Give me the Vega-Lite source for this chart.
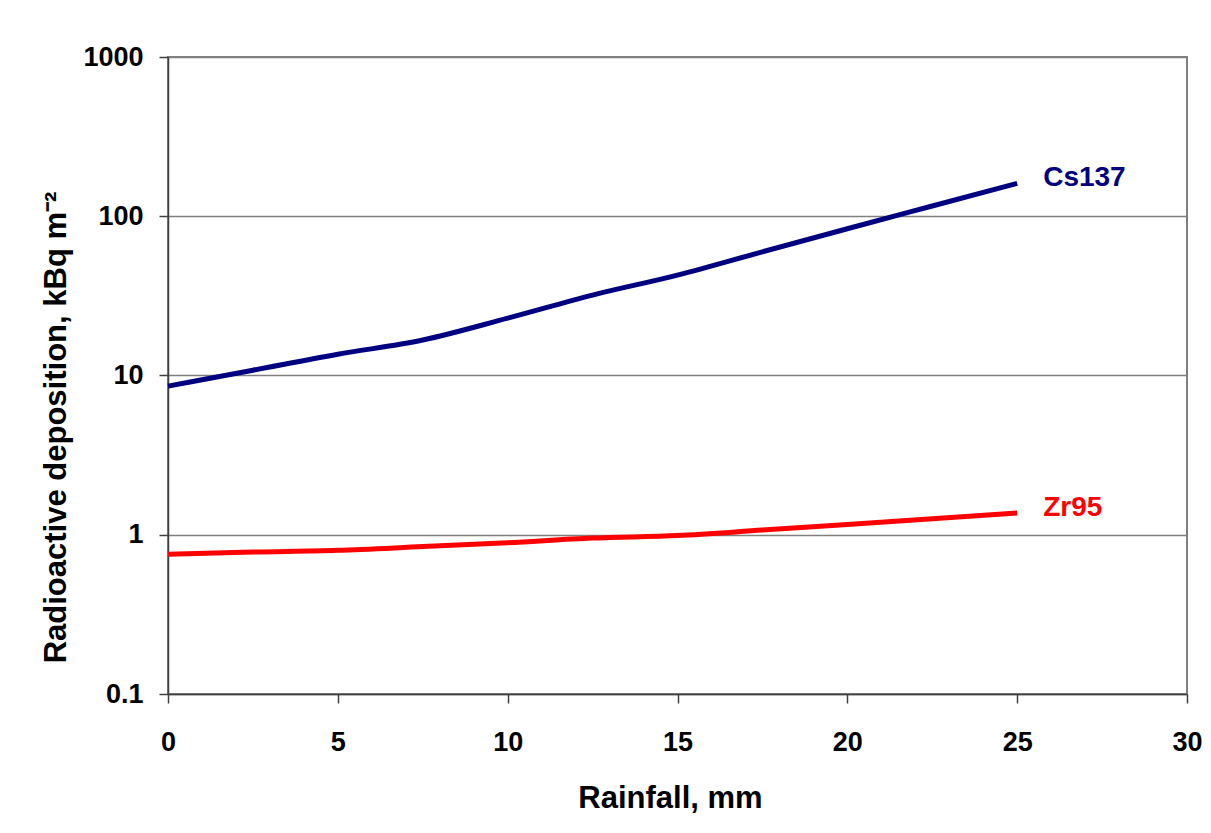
{
  "$schema": "https://vega.github.io/schema/vega-lite/v6.json",
  "width": 1019,
  "height": 637,
  "autosize": {"type": "none"},
  "padding": {"left": 168, "top": 57, "right": 24, "bottom": 139},
  "background": "white",
  "config": {
    "view": {"stroke": "#808080", "strokeWidth": 2},
    "font": "Liberation Sans"
  },
  "data": {
    "values": [
      {"rain": 0, "series": "Cs137", "value": 8.58},
      {"rain": 2.5, "series": "Cs137", "value": 10.8},
      {"rain": 5, "series": "Cs137", "value": 13.6},
      {"rain": 7.5, "series": "Cs137", "value": 16.7},
      {"rain": 10, "series": "Cs137", "value": 22.9},
      {"rain": 12.5, "series": "Cs137", "value": 32.0},
      {"rain": 15, "series": "Cs137", "value": 42.7},
      {"rain": 17.5, "series": "Cs137", "value": 59.8},
      {"rain": 20, "series": "Cs137", "value": 83.5},
      {"rain": 22.5, "series": "Cs137", "value": 116},
      {"rain": 25, "series": "Cs137", "value": 161},
      {"rain": 0, "series": "Zr95", "value": 0.753},
      {"rain": 2.5, "series": "Zr95", "value": 0.778},
      {"rain": 5, "series": "Zr95", "value": 0.798},
      {"rain": 7.5, "series": "Zr95", "value": 0.843},
      {"rain": 10, "series": "Zr95", "value": 0.891},
      {"rain": 12.5, "series": "Zr95", "value": 0.953},
      {"rain": 15, "series": "Zr95", "value": 0.989},
      {"rain": 17.5, "series": "Zr95", "value": 1.07},
      {"rain": 20, "series": "Zr95", "value": 1.16},
      {"rain": 22.5, "series": "Zr95", "value": 1.26},
      {"rain": 25, "series": "Zr95", "value": 1.37}
    ]
  },
  "encoding": {
    "x": {
      "field": "rain",
      "type": "quantitative",
      "scale": {"domain": [0, 30], "nice": false, "zero": false},
      "axis": {
        "title": "Rainfall, mm",
        "values": [0, 5, 10, 15, 20, 25, 30],
        "grid": false,
        "domainColor": "#404040",
        "domainWidth": 1.5,
        "tickColor": "#404040",
        "tickWidth": 1.5,
        "tickSize": 9,
        "labelPadding": 26,
        "labelFont": "Liberation Sans",
        "labelFontSize": 27,
        "labelFontWeight": "bold",
        "labelColor": "black",
        "labelFlush": false,
        "titleFont": "Liberation Sans",
        "titleFontSize": 31,
        "titleFontWeight": "bold",
        "titleColor": "black",
        "titleX": 502,
        "titleY": 104,
        "titleBaseline": "middle",
        "titleAnchor": null
      }
    },
    "y": {
      "field": "value",
      "type": "quantitative",
      "scale": {"type": "log", "domain": [0.1, 1000], "nice": false},
      "axis": {
        "title": "Radioactive deposition, kBq m⁻²",
        "values": [0.1, 1, 10, 100, 1000],
        "format": "~g",
        "grid": true,
        "gridColor": "#808080",
        "gridWidth": 1.5,
        "domainColor": "#404040",
        "domainWidth": 1.5,
        "tickColor": "#404040",
        "tickWidth": 1.5,
        "tickSize": 9,
        "labelPadding": 16,
        "labelFont": "Liberation Sans",
        "labelFontSize": 27,
        "labelFontWeight": "bold",
        "labelColor": "black",
        "labelFlush": false,
        "titleFont": "Liberation Sans",
        "titleFontSize": 31,
        "titleFontWeight": "bold",
        "titleColor": "black",
        "titleX": -112,
        "titleY": 370,
        "titleBaseline": "middle",
        "titleAngle": -90
      }
    },
    "color": {
      "field": "series",
      "type": "nominal",
      "scale": {"domain": ["Cs137", "Zr95"], "range": ["#000080", "#FF0000"]},
      "legend": null
    }
  },
  "layer": [
    {"mark": {"type": "line", "strokeWidth": 5, "interpolate": "monotone"}},
    {
      "transform": [{"filter": "datum.rain == 25"}],
      "mark": {"type": "text", "align": "left", "baseline": "middle", "dx": 26, "dy": -5, "fontSize": 28, "fontWeight": "bold", "font": "Liberation Sans"},
      "encoding": {"text": {"field": "series"}}
    }
  ]
}
